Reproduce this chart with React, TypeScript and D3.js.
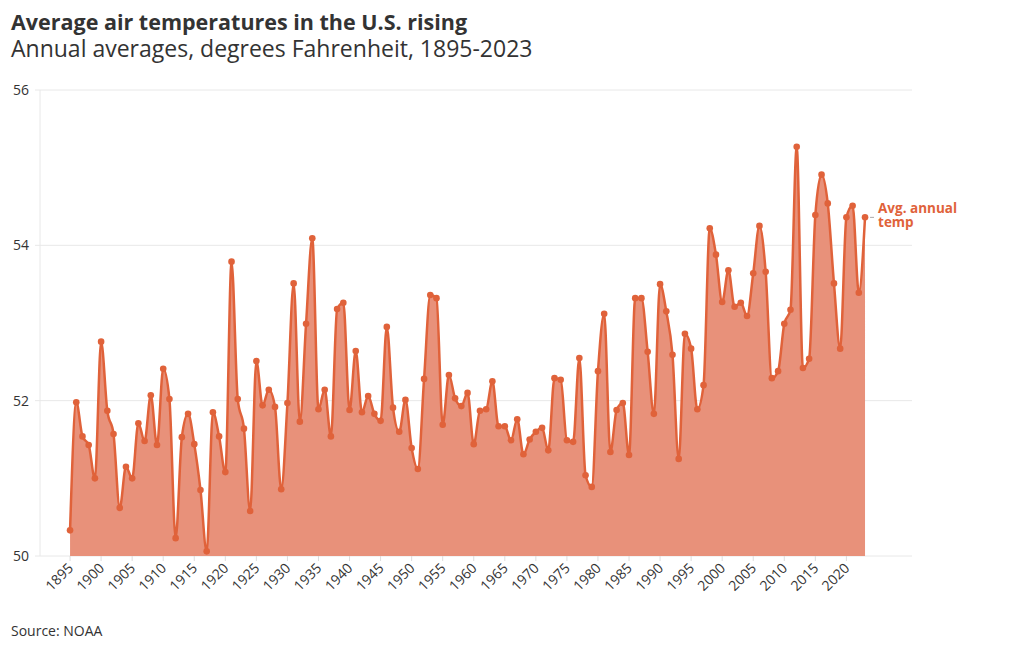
import React from "react";
import * as d3 from "d3";

const startYear = 1895;
const temps = [
  50.33, 51.98, 51.54, 51.43, 51.0, 52.76, 51.87, 51.57, 50.62, 51.15,
  51.0, 51.71, 51.48, 52.07, 51.43, 52.41, 52.02, 50.23, 51.53, 51.83,
  51.44, 50.85, 50.06, 51.85, 51.54, 51.08, 53.79, 52.02, 51.64, 50.58,
  52.51, 51.94, 52.14, 51.92, 50.86, 51.97, 53.51, 51.73, 52.99, 54.09,
  51.89, 52.14, 51.54, 53.18, 53.26, 51.88, 52.64, 51.85, 52.06, 51.83,
  51.74, 52.95, 51.91, 51.6, 52.01, 51.39, 51.12, 52.28, 53.36, 53.32,
  51.69, 52.33, 52.03, 51.93, 52.1, 51.44, 51.87, 51.89, 52.25, 51.67,
  51.67, 51.49, 51.76, 51.31, 51.5, 51.6, 51.65, 51.36, 52.29, 52.27,
  51.49, 51.47, 52.55, 51.04, 50.89, 52.38, 53.12, 51.34, 51.88, 51.97,
  51.3, 53.32, 53.32, 52.63, 51.83, 53.5, 53.15, 52.59, 51.25, 52.86,
  52.67, 51.89, 52.2, 54.22, 53.88, 53.27, 53.68, 53.21, 53.26, 53.09,
  53.64, 54.25, 53.66, 52.29, 52.38, 52.99, 53.17, 55.27, 52.42, 52.54,
  54.39, 54.91, 54.54, 53.51, 52.67, 54.36, 54.51, 53.39, 54.36,
];
const yTicks = [50, 52, 54, 56];
const xTicks = d3.range(1895, 2021, 5);
const title = "Average air temperatures in the U.S. rising";
const subtitle = "Annual averages, degrees Fahrenheit, 1895-2023";
const source = "Source: NOAA";
const seriesLabel = ["Avg. annual", "temp"];

const data = temps.map((v, i) => ({ year: startYear + i, value: v }));

const LINE = "#e0623a";
const FILL = "#e8917a";
const FONT = "'Open Sans', 'Noto Sans', sans-serif";

export default function App() {
  const W = 1020, H = 650;
  const left = 40, right = 912, top = 90, bottom = 556;
  const x = d3.scaleLinear().domain([1890, 2030]).range([39, 908.5]);
  const y = d3.scaleLinear().domain([50, 56]).range([bottom, top]);
  const line = d3.line<any>().x(d => x(d.year)).y(d => y(d.value)).curve(d3.curveMonotoneX);
  const area = d3.area<any>().x(d => x(d.year)).y0(y(50)).y1(d => y(d.value)).curve(d3.curveMonotoneX);
  const last = data[data.length - 1];
  const lx = x(last.year) + 13;

  return (
    <svg width={W} height={H} style={{ position: "absolute", left: 0, top: 0, background: "#fff" }} fontFamily={FONT}>
      <text x={11} y={30} fontSize={21.5} fontWeight={700} fill="#333">{title}</text>
      <text x={11} y={57} fontSize={23} fontWeight={400} fill="#333">{subtitle}</text>

      {yTicks.map(t => (
        <g key={t}>
          <line x1={left} x2={right} y1={y(t)} y2={y(t)} stroke="#e8e8e8" strokeWidth={1} />
          <line x1={left - 5} x2={left} y1={y(t)} y2={y(t)} stroke="#e8e8e8" strokeWidth={1} />
          <text x={left - 11} y={y(t)} dy="0.35em" textAnchor="end" fontSize={14} fill="#333">{t}</text>
        </g>
      ))}
      <line x1={left} x2={left} y1={top} y2={bottom} stroke="#e8e8e8" strokeWidth={1} />

      <path d={area(data) || ""} fill={FILL} />
      <path d={line(data) || ""} fill="none" stroke={LINE} strokeWidth={2.5} strokeLinejoin="round" />
      {data.map(d => (
        <circle key={d.year} cx={x(d.year)} cy={y(d.value)} r={3.3} fill={LINE} />
      ))}

      {xTicks.map(t => (
        <g key={t} transform={`translate(${x(t)},${bottom})`}>
          <line y1={0} y2={5} stroke="#ddd" />
          <text transform="translate(4,13) rotate(-45)" textAnchor="end" fontSize={14} fill="#333">{t}</text>
        </g>
      ))}

      <line x1={x(last.year) + 5} x2={x(last.year) + 9} y1={y(last.value)} y2={y(last.value)} stroke="#aaa" />
      <text x={lx} y={y(last.value) - 4} fontSize={13.5} fontWeight={700} fill={LINE}>{seriesLabel[0]}</text>
      <text x={lx} y={y(last.value) + 10} fontSize={13.5} fontWeight={700} fill={LINE}>{seriesLabel[1]}</text>

      <text x={11} y={636} fontSize={14} fill="#333">{source}</text>
    </svg>
  );
}
